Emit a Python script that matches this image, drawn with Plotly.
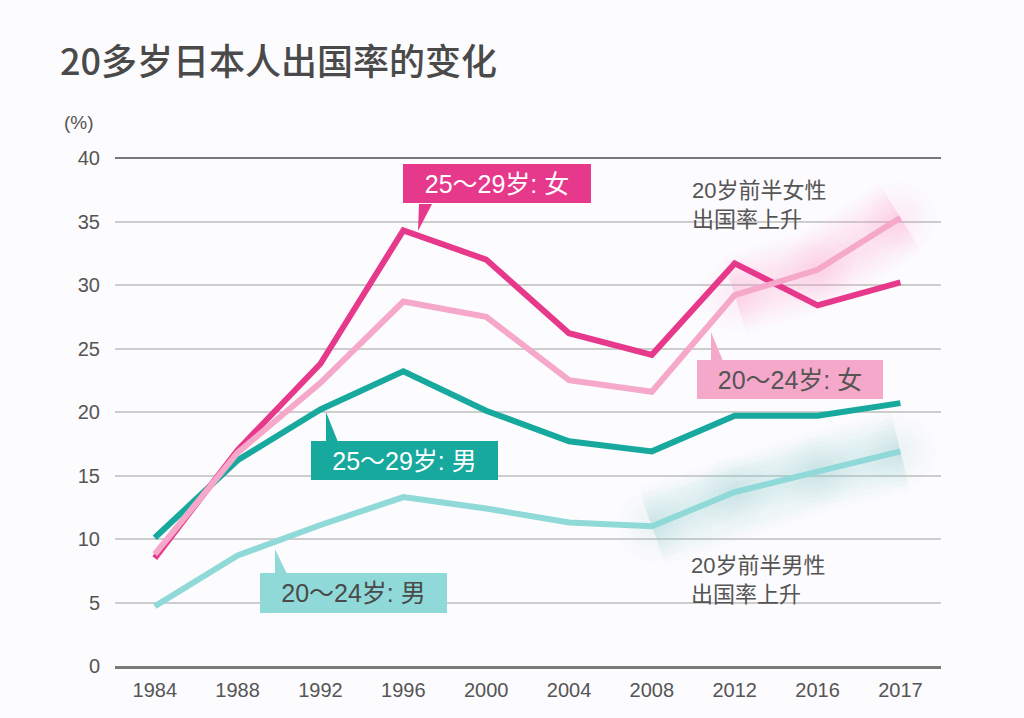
import plotly.graph_objects as go

# ---------------- data ----------------
years = ["1984", "1988", "1992", "1996", "2000", "2004", "2008", "2012", "2016", "2017"]
female_25_29 = [8.5, 17.0, 23.8, 34.3, 32.0, 26.2, 24.5, 31.7, 28.4, 30.2]
female_20_24 = [8.8, 16.8, 22.3, 28.7, 27.5, 22.5, 21.6, 29.2, 31.2, 35.3]
male_25_29 = [10.1, 16.2, 20.2, 23.2, 20.1, 17.7, 16.9, 19.7, 19.7, 20.7]
male_20_24 = [4.7, 8.7, 11.1, 13.3, 12.4, 11.3, 11.0, 13.7, 15.3, 16.9]

y_ticks = [0, 5, 10, 15, 20, 25, 30, 35, 40]

title_text = "20多岁日本人出国率的变化"
unit_text = "(%)"
label_f25 = "25～29岁: 女"
label_f20 = "20～24岁: 女"
label_m25 = "25～29岁: 男"
label_m20 = "20～24岁: 男"
note_f = "20岁前半女性<br>出国率上升"
note_m = "20岁前半男性<br>出国率上升"

# ---------------- style ----------------
C_F25 = "#e6398b"
C_F20 = "#f5a8c9"
C_M25 = "#17a89e"
C_M20 = "#8fd9d8"
FONT = "Liberation Sans, Noto Sans CJK SC, sans-serif"
W, H = 1024, 718
L, R, T, B = 115, 941, 158, 666


def px(x, y):
    return (x - L) / (R - L), (B - y) / (B - T)


fig = go.Figure()

# soft glow behind the rising 20-24 segments
glow_widths = [80, 68, 58, 48, 38, 28, 18]
for w in glow_widths:
    fig.add_trace(go.Scatter(x=years[6:], y=male_20_24[6:], mode="lines",
                             line=dict(color="rgba(143,217,216,0.045)", width=w),
                             hoverinfo="skip", showlegend=False))
    fig.add_trace(go.Scatter(x=years[6:], y=male_20_24[6:], mode="markers",
                             marker=dict(size=w * 0.9, color="rgba(143,217,216,0.02)", line=dict(width=0)),
                             hoverinfo="skip", showlegend=False))
    fig.add_trace(go.Scatter(x=years[7:], y=female_20_24[7:], mode="lines",
                             line=dict(color="rgba(245,168,201,0.045)", width=w),
                             hoverinfo="skip", showlegend=False))
    fig.add_trace(go.Scatter(x=years[7:], y=female_20_24[7:], mode="markers",
                             marker=dict(size=w * 0.9, color="rgba(245,168,201,0.02)", line=dict(width=0)),
                             hoverinfo="skip", showlegend=False))

for name, vals, col in [(label_m20, male_20_24, C_M20),
                        (label_m25, male_25_29, C_M25),
                        (label_f25, female_25_29, C_F25),
                        (label_f20, female_20_24, C_F20)]:
    fig.add_trace(go.Scatter(x=years, y=vals, mode="lines", name=name,
                             line=dict(color=col, width=6), showlegend=False))

shapes = []
# top darker line at 40
shapes.append(dict(type="line", xref="paper", yref="paper", x0=0, x1=1, y0=1, y1=1,
                   line=dict(color="#7a7a7a", width=2)))


def wedge(tip, b1, b2, color):
    pts = [px(*tip), px(*b1), px(*b2)]
    path = "M {} {} L {} {} L {} {} Z".format(pts[0][0], pts[0][1], pts[1][0], pts[1][1], pts[2][0], pts[2][1])
    return dict(type="path", xref="paper", yref="paper", path=path,
                fillcolor=color, line=dict(width=0), layer="above")


shapes.append(wedge((418, 231), (419, 204), (432, 204), C_F25))
shapes.append(wedge((326, 412), (326, 442), (338, 442), C_M25))
shapes.append(wedge((275, 549), (275, 574), (287, 574), C_M20))
shapes.append(wedge((711, 332), (711, 361), (723, 361), C_F20))

annotations = []


def box(text, x0, x1, y0, y1, bg, fg):
    cx, cy = px((x0 + x1) / 2, (y0 + y1) / 2)
    return dict(text=text, xref="paper", yref="paper", x=cx, y=cy, xanchor="center", yanchor="middle",
                showarrow=False, bgcolor=bg, width=x1 - x0, height=y1 - y0, borderpad=0, borderwidth=0,
                font=dict(family=FONT, size=25, color=fg), align="center", valign="middle")


annotations.append(box(label_f25, 403, 591, 164, 203, C_F25, "#ffffff"))
annotations.append(box(label_m25, 311, 498, 441, 480, C_M25, "#ffffff"))
annotations.append(box(label_m20, 260, 447, 573, 613, C_M20, "#4a4a4a"))
annotations.append(box(label_f20, 697, 883, 360, 399, C_F20, "#555555"))

nx, ny = px(690, 176)
annotations.append(dict(text=note_f, xref="paper", yref="paper", x=nx, y=ny, xanchor="left", yanchor="top",
                        showarrow=False, align="left", font=dict(family=FONT, size=22, color="#555555")))
nx, ny = px(689, 551)
annotations.append(dict(text=note_m, xref="paper", yref="paper", x=nx, y=ny, xanchor="left", yanchor="top",
                        showarrow=False, align="left", font=dict(family=FONT, size=22, color="#555555")))
ux, uy = px(62, 123)
annotations.append(dict(text=unit_text, xref="paper", yref="paper", x=ux, y=uy, xanchor="left", yanchor="middle",
                        showarrow=False, font=dict(family=FONT, size=19, color="#555555")))

fig.update_layout(
    width=W, height=H,
    margin=dict(l=L, r=W - R, t=T, b=H - B, pad=0),
    paper_bgcolor="#fcfbfd", plot_bgcolor="#fcfbfd",
    title=dict(text=title_text, x=60 / W, y=1 - 62 / H, xanchor="left", yanchor="middle",
               xref="container", yref="container",
               font=dict(family="Noto Sans CJK SC, sans-serif", size=36, color="#4a4a4a", weight=500)),
    shapes=shapes, annotations=annotations,
    showlegend=False,
    xaxis=dict(type="category", categoryorder="array", categoryarray=years,
               range=[-0.48, len(years) - 1 + 0.49], showgrid=False, zeroline=False,
               showline=True, linecolor="#7a7a7a", linewidth=2.5,
               tickfont=dict(family=FONT, size=20, color="#555555"), ticks="", ticklabelstandoff=4),
    yaxis=dict(range=[0, 40], tickvals=y_ticks, showgrid=True, gridcolor="#cdcdcd", gridwidth=1.5,
               zeroline=False, showline=False, ticks="",
               tickfont=dict(family=FONT, size=20, color="#555555"), ticklabelstandoff=14),
)

fig.write_html("out.html", config={"displayModeBar": False},
               post_script="document.body.style.margin='0';")
